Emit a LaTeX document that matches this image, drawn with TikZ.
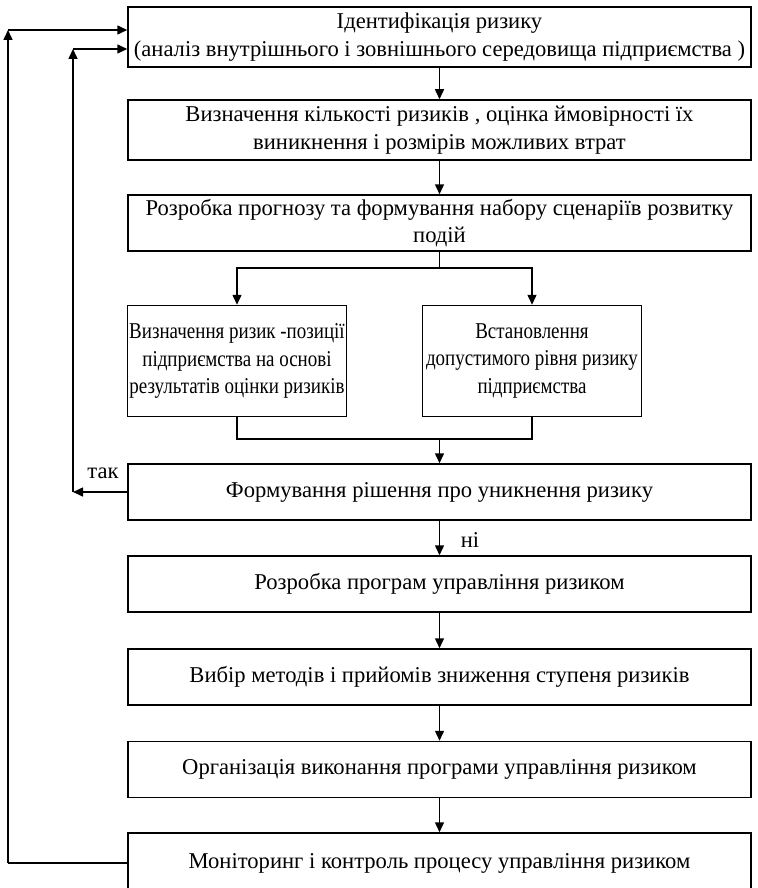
\documentclass[tikz,border=0pt]{standalone}
\usepackage{fontspec}
\setmainfont{Liberation Serif}
\newfontfamily\narrowfont[FakeStretch=0.84]{Liberation Serif}
\usetikzlibrary{arrows.meta,positioning}

\begin{document}
\begin{tikzpicture}[
  x=1pt, y=-1pt,
  box/.style={rectangle, draw, line width=1.5pt, inner sep=2pt,
    minimum width=623pt, minimum height=56pt,
    align=center, font=\fontsize{22.6}{27.5}\selectfont},
  sbox/.style={box, inner sep=0pt, minimum width=219pt, minimum height=111pt,
    font=\fontsize{22.6}{27.5}\selectfont\narrowfont},
  lbl/.style={font=\fontsize{22.6}{27.5}\selectfont, inner sep=1pt},
  arr/.style={-{Triangle[length=10pt,width=9pt]}, line width=1.5pt},
  ln/.style={line width=1.5pt}
]
\useasboundingbox (0,0) rectangle (757,888);
\node[box, minimum height=60pt] (A) at (439.5,37)
  {Ідентифікація ризику\\(аналіз внутрішнього і зовнішнього середовища підприємства )};
\node[box, minimum height=60pt] (B) at (439.5,130)
  {Визначення кількості ризиків , оцінка ймовірності їх\\виникнення і розмірів можливих втрат};
\node[box] (C) at (439.5,223)
  {Розробка прогнозу та формування набору сценаріїв розвитку\\подій};
\node[sbox] (D) at (237,361)
  {Визначення ризик -позиції\\підприємства на основі\\результатів оцінки ризиків};
\node[sbox] (E) at (532,361)
  {Встановлення\\допустимого рівня ризику\\підприємства};
\node[box] (F) at (439.5,492) {Формування рішення про уникнення ризику};
\node[box] (G) at (439.5,584) {Розробка програм управління ризиком};
\node[box] (H) at (439.5,677) {Вибір методів і прийомів зниження ступеня ризиків};
\node[box] (I) at (439.5,769.5) {Організація виконання програми управління ризиком};
\node[box, minimum height=60pt] (K) at (439.5,863) {Моніторинг і контроль процесу управління ризиком};
% branch and merge points
\coordinate (s1) at (439.5,268);
\coordinate (m1) at (439.5,439);
\coordinate (t1) at (73,492);
\coordinate (t2) at (73,49);
\coordinate (o1) at (8,863);
\coordinate (o2) at (8,30);
\draw[arr] (A)--(B); \draw[arr] (B)--(C);
\draw[ln] (C)--(s1);
\draw[arr] (s1)-|(D); \draw[arr] (s1)-|(E);
\draw[ln] (D)|-(m1); \draw[ln] (E)|-(m1);
\draw[arr] (m1)--(F); \draw[arr] (F)--(G);
\draw[arr] (G)--(H); \draw[arr] (H)--(I); \draw[arr] (I)--(K);
% feedback loops
\draw[arr] (F.west)--(t1); \draw[arr] (t1)--(t2); \draw[arr] (t2)--(A.west|-t2);
\draw[ln] (K.west)--(o1); \draw[arr] (o1)--(o2); \draw[arr] (o2)--(A.west|-o2);
\node[lbl] (tak) at (103,473) {так};
\node[lbl] (ni) at (470,540) {ні};
\end{tikzpicture}
\end{document}
